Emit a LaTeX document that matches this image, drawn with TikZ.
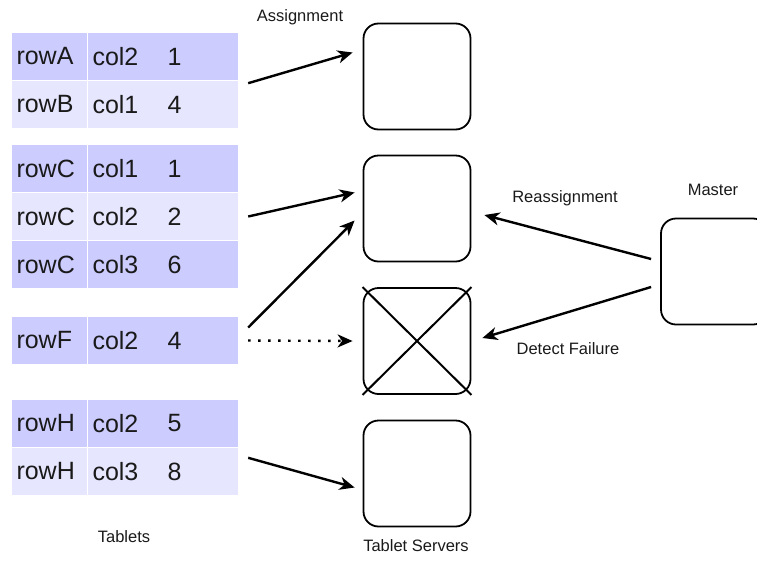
\documentclass[tikz,border=0pt]{standalone}
\usepackage{fontspec}
\setmainfont{Liberation Sans}
\usetikzlibrary{arrows.meta}

\definecolor{rowdark}{HTML}{CCCCFF}
\definecolor{rowlight}{HTML}{E6E6FF}
\definecolor{inktext}{HTML}{1A1A1A}

\tikzset{
    cell/.style={minimum height=47pt, text width=66pt, inner xsep=4.5pt, inner ysep=0pt,
        align=left, text=inktext, font=\fontsize{25}{29}\selectfont},
    server/.style={draw, line width=1.8pt, rounded corners=15pt, minimum width=107pt, minimum height=106pt},
    label/.style={text=inktext, font=\fontsize{16.5}{20}\selectfont},
    link/.style={line width=2.4pt, -{Stealth[length=15pt, width=13pt, inset=4.5pt]}},
}

\begin{document}
\begin{tikzpicture}[x=1pt, y=-1pt]
    \useasboundingbox (0,0) rectangle (757,560);
    \clip (0,0) rectangle (757,560);

    % Tablets
    \foreach \n/\r/\c/\v/\y/\f in {A/rowA/col2/1/56.5/rowdark, B/rowB/col1/4/104.5/rowlight,
        Ca/rowC/col1/1/168.5/rowdark, Cb/rowC/col2/2/216.5/rowlight, Cc/rowC/col3/6/264.5/rowdark,
        F/rowF/col2/4/340.5/rowdark,
        Ha/rowH/col2/5/423.5/rowdark, Hb/rowH/col3/8/471.5/rowlight}{
        \node[cell, fill=\f] (key\n) at (49.5,\y) {\r};
        \node[cell, fill=\f] (col\n) at (125.5,\y) {\c};
        \node[cell, fill=\f] (val\n) at (200.5,\y) {\v};
    }

    % Tablet servers
    \node[server] (srv1) at (417,76.5) {};
    \node[server] (srv2) at (417,208.5) {};
    \node[server] (srv3) at (417,341) {};
    \node[server] (srv4) at (417,473.5) {};
    \draw[line width=2pt] (srv3.north west) -- (srv3.south east);
    \draw[line width=2pt] (srv3.north east) -- (srv3.south west);

    % Master
    \node[server] (master) at (714.5,271.5) {};

    % Labels
    \node[label] (assign) at (300,17) {Assignment};
    \node[label] (reassign) at (565,198) {Reassignment};
    \node[label] (mastertxt) at (713,190) {Master};
    \node[label] (detect) at (568,349) {Detect Failure};
    \node[label] (tablets) at (124,537) {Tablets};
    \node[label] (servers) at (416,546) {Tablet Servers};

    % Connect tablets to servers
    \draw[link] ([xshift=10pt, yshift=-3pt]valA.south east) -- ([xshift=-10pt, yshift=24pt]srv1.west);
    \draw[link] ([xshift=10pt]valCb.east) -- ([xshift=-8pt, yshift=16pt]srv2.west);
    \draw[link] ([xshift=10pt, yshift=13pt]valF.east) -- ([xshift=-8pt, yshift=-12pt]srv2.west);
    \draw[link, dash pattern=on 2.5pt off 7.5pt] ([xshift=10pt]valF.east) -- ([xshift=-10pt]srv3.west);
    \draw[link] ([xshift=10pt, yshift=-10pt]valHb.north east) -- ([xshift=-8pt, yshift=-14pt]srv4.west);

    % Master to servers
    \draw[link] ([xshift=-9pt, yshift=12.5pt]master.west) -- ([xshift=13pt, yshift=-6.5pt]srv2.east);
    \draw[link] ([xshift=-9pt, yshift=-15.5pt]master.west) -- ([xshift=11pt, yshift=3pt]srv3.east);
\end{tikzpicture}
\end{document}
